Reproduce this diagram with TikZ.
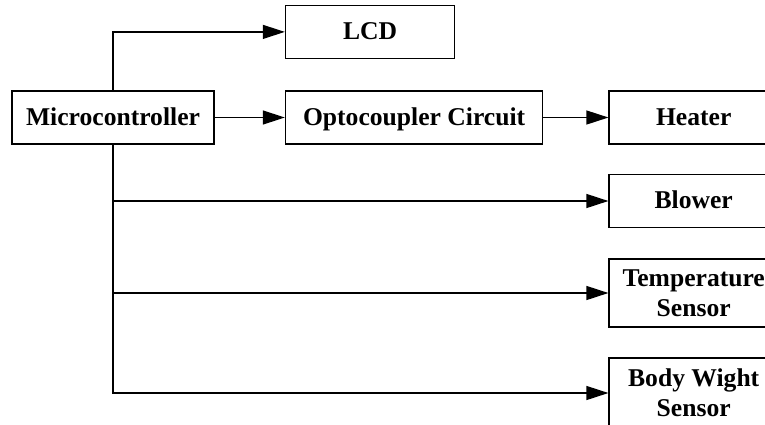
\documentclass[tikz,border=0pt]{standalone}
\usepackage{fontspec}
\setmainfont{Liberation Serif}
\usetikzlibrary{arrows.meta,positioning}

\begin{document}
\begin{tikzpicture}[
    x=0.5pt, y=-0.5pt,
    block/.style={rectangle, draw, line width=0.8pt, minimum height=26.5pt, align=center, inner sep=2pt, text height=9.75pt, text depth=2.25pt, font=\fontsize{12.8}{15}\selectfont\bfseries},
    small/.style={block, minimum width=84.5pt},
    twoline/.style={small, text height=25pt, text depth=2pt},
    arrow/.style={-{Triangle[length=11pt, width=7pt]}, line width=0.6pt},
  ]
    \useasboundingbox (0,0) rectangle (765,424);
    \clip (0,0) rectangle (765,424);

    % Controller
    \node[block, minimum width=101pt] (mcu) at (113,117.5) {Microcontroller};

    % Middle row
    \node[block, minimum width=128.5pt, right=35pt of mcu] (opto) {Optocoupler Circuit};
    \node[small, above right=15.5pt and 0pt of opto.north west] (lcd) {LCD};

    % Loads and sensors (right)
    \node[small, right=32.5pt of opto] (heater) {Heater};
    \node[small] (blower) at (heater |- 0,201) {Blower};
    \node[twoline, minimum height=34pt] (temp) at (heater |- 0,293) {Temperature\\Sensor};
    \node[twoline, minimum height=35pt] (weight) at (heater |- 0,393) {Body Wight\\Sensor};

    % Arrows
    \draw[arrow] (mcu.north) |- (lcd.west);
    \draw[arrow] (mcu) -- (opto);
    \draw[arrow] (opto) -- (heater);
    \draw[arrow] (mcu.south) |- (blower.west);
    \draw[arrow] (mcu.south) |- (temp.west);
    \draw[arrow] (mcu.south) |- (weight.west);
  \end{tikzpicture}
\end{document}
